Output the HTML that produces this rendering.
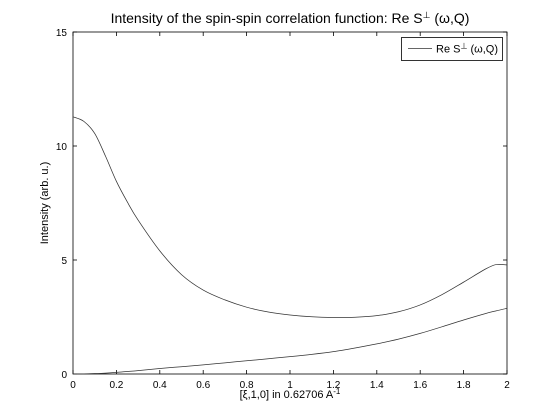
<!DOCTYPE html>
<html><head><meta charset="utf-8"><style>
body{margin:0;background:#fff;}
svg{display:block;font-family:"Liberation Sans",sans-serif;}
</style></head><body>
<svg id="chart" width="560" height="420">
<rect width="560" height="420" fill="#fff"/>
<text x="290" y="23" font-size="14" text-anchor="middle">Intensity of the spin-spin correlation function: Re S<tspan dy="-5" font-size="9">⊥</tspan><tspan dy="5"> (ω,Q)</tspan></text>
<g id="axes"></g>
<g id="series"></g>
<text x="290" y="398" font-size="11" text-anchor="middle">[ξ,1,0] in 0.62706 A<tspan dy="-4" font-size="8">-1</tspan></text>
<text transform="translate(48,203) rotate(-90)" font-size="11" text-anchor="middle">Intensity (arb. u.)</text>
<g>
<rect x="401.5" y="37.5" width="101" height="23" fill="#fff" stroke="#000" stroke-width="0.8"/>
<line x1="408" y1="48.5" x2="432" y2="48.5" stroke="#333" stroke-width="0.8"/>
<text x="436" y="52.5" font-size="11">Re S<tspan dy="-4" font-size="8">⊥</tspan><tspan dy="4"> (ω,Q)</tspan></text>
</g>
</svg>
<script>
const xValues=[0,0.05,0.1,0.15,0.2,0.25,0.3,0.4,0.5,0.6,0.7,0.8,0.9,1.0,1.1,1.2,1.3,1.4,1.5,1.6,1.7,1.8,1.9,1.95,2.0];
const upperSeries=[11.28,11.08,10.55,9.55,8.45,7.55,6.75,5.4,4.36,3.68,3.25,2.93,2.72,2.59,2.51,2.48,2.49,2.56,2.73,3.03,3.48,4.03,4.6,4.8,4.78];
const lowerSeries=[0,0.005,0.02,0.04,0.07,0.11,0.15,0.24,0.32,0.4,0.49,0.58,0.67,0.76,0.86,0.98,1.14,1.32,1.53,1.78,2.07,2.37,2.65,2.77,2.88];
const xTicks=[0,0.2,0.4,0.6,0.8,1,1.2,1.4,1.6,1.8,2];
const xTickLabels=["0","0.2","0.4","0.6","0.8","1","1.2","1.4","1.6","1.8","2"];
const yTicks=[0,5,10,15];
const yTickLabels=["0","5","10","15"];
const L=73,R=507,T=32,B=374;
const sx=v=>L+(v-0)/(2-0)*(R-L);
const sy=v=>B-(v-0)/(15-0)*(B-T);
const NS="http://www.w3.org/2000/svg";
const axes=document.getElementById('axes');
const series=document.getElementById('series');
function mk(tag,attrs,parent){const e=document.createElementNS(NS,tag);for(const k in attrs)e.setAttribute(k,attrs[k]);parent.appendChild(e);return e;}
const box=mk('rect',{x:L,y:T,width:R-L,height:B-T,fill:'none',stroke:'#000','stroke-width':0.8},axes);


xTicks.forEach((v,i)=>{
  const x=sx(v);
  const t1=mk('line',{x1:x,y1:B,x2:x,y2:B-4,stroke:'#000','stroke-width':0.8},axes);
  
  
  const t2=mk('line',{x1:x,y1:T,x2:x,y2:T+4,stroke:'#000','stroke-width':0.8},axes);
  
  
  const tx=mk('text',{x:x,y:B+14,'font-size':10,'text-anchor':'middle'},axes);
  tx.textContent=xTickLabels[i];
  
  
});
yTicks.forEach((v,i)=>{
  const y=sy(v);
  const t1=mk('line',{x1:L,y1:y,x2:L+4,y2:y,stroke:'#000','stroke-width':0.8},axes);
  
  
  const t2=mk('line',{x1:R,y1:y,x2:R-4,y2:y,stroke:'#000','stroke-width':0.8},axes);
  
  
  const tx=mk('text',{x:L-6,y:y+4,'font-size':10,'text-anchor':'end'},axes);
  tx.textContent=yTickLabels[i];
  
  
});
function path(vals){
  const p=xValues.map((x,i)=>[sx(x),sy(vals[i])]);
  let d='M'+p[0][0]+','+p[0][1];
  for(let i=0;i<p.length-1;i++){
    const p0=p[Math.max(0,i-1)],p1=p[i],p2=p[i+1],p3=p[Math.min(p.length-1,i+2)];
    const c1x=p1[0]+(p2[0]-p0[0])/6,c1y=p1[1]+(p2[1]-p0[1])/6;
    const c2x=p2[0]-(p3[0]-p1[0])/6,c2y=p2[1]-(p3[1]-p1[1])/6;
    d+=` C${c1x},${c1y} ${c2x},${c2y} ${p2[0]},${p2[1]}`;
  }
  return d;
}
const up=mk('path',{d:path(upperSeries),fill:'none',stroke:'#333','stroke-width':0.75},series);


const lo=mk('path',{d:path(lowerSeries),fill:'none',stroke:'#333','stroke-width':0.75},series);


</script>
</body></html>
